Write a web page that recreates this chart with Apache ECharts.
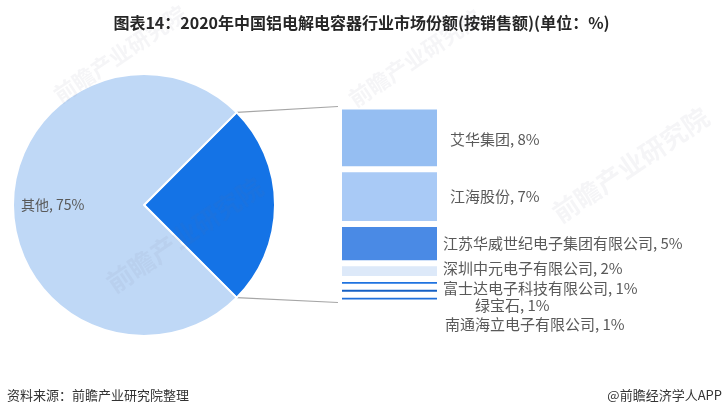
<!DOCTYPE html>
<html>
<head>
<meta charset="utf-8">
<script src="https://cdn.jsdelivr.net/npm/echarts@6/dist/echarts.min.js"></script>
<style>
  html, body { margin: 0; padding: 0; background: #fff; }
  #chart { width: 723px; height: 415px; }
</style>
</head>
<body>
<div id="chart"></div>
<script>
// 2020年中国铝电解电容器行业市场份额（按销售额，%）
const pieNames = ['前七家企业合计', '其他'];
const pieValues = [25, 75];

const companies = ['艾华集团', '江海股份', '江苏华威世纪电子集团有限公司', '深圳中元电子有限公司', '富士达电子科技有限公司', '绿宝石', '南通海立电子有限公司'];
const shares = [8, 7, 5, 2, 1, 1, 1];

// styling
const pieColors = ['#1473E6', '#BFD8F6'];
const barColors = ['#95BEF2', '#A9CAF6', '#4A8AE5', '#DDE9F9', '#1F73E0', '#1660C4', '#1F6FDA'];
const labelOffsets = [[10, 1], [10, 0], [3, 0], [3, -3], [3, 5], [35, 15], [5, 26]];

const pieCenter = [144, 205];
const pieRadius = 131;
const gridBox = { left: 339, top: 106.5, width: 101, height: 196 };

const chart = echarts.init(document.getElementById('chart'), null, { renderer: 'canvas' });
const total = shares.reduce((a, b) => a + b, 0);
const textColor = '#595959';
const fontCJK = '"Noto Sans CJK SC", "Noto Sans", sans-serif';

const barSeries = companies.map((name, i) => ({
  type: 'bar',
  name: name,
  stack: 'share',
  barWidth: '100%',
  data: [shares[i]],
  itemStyle: { color: barColors[i], borderColor: '#fff', borderWidth: 3 },
  label: {
    show: true,
    position: 'right',
    distance: 0,
    offset: labelOffsets[i],
    formatter: '{a}, {c}%',
    color: textColor,
    fontSize: 15,
    fontFamily: fontCJK
  },
  silent: true
}));

function watermark(x, y, size) {
  return {
    type: 'text', x: x, y: y, rotation: Math.PI * 34 / 180, z: 100, silent: true,
    style: { text: '前瞻产业研究院', fill: 'rgba(110,120,140,0.07)', font: 'bold ' + size + 'px ' + fontCJK }
  };
}

chart.setOption({
  backgroundColor: '#fff',
  animation: false,
  title: {
    text: '图表14：2020年中国铝电解电容器行业市场份额(按销售额)(单位：%)',
    left: 'center',
    top: 10,
    textStyle: { fontSize: 16, fontWeight: 'bold', color: '#262626', fontFamily: fontCJK }
  },
  grid: { left: gridBox.left, top: gridBox.top, width: gridBox.width, height: gridBox.height },
  xAxis: { type: 'category', data: ['份额'], show: false },
  yAxis: { type: 'value', min: 0, max: total, inverse: true, show: false },
  series: [
    {
      type: 'pie',
      center: pieCenter,
      radius: pieRadius,
      startAngle: 45,
      clockwise: true,
      silent: true,
      itemStyle: { borderColor: '#fff', borderWidth: 2 },
      label: {
        show: true,
        position: 'inside',
        formatter: '{b}, {c}%',
        color: textColor,
        fontSize: 14,
        fontFamily: fontCJK
      },
      // the "其他" label sits near the left rim of the pie
      labelLayout: function () {
        return { x: pieCenter[0] - pieRadius + 8, y: pieCenter[1], align: 'left', verticalAlign: 'middle' };
      },
      data: pieNames.map((n, i) => ({
        name: n,
        value: pieValues[i],
        itemStyle: { color: pieColors[i] },
        label: { show: i === 1 }
      }))
    }
  ].concat(barSeries)
});

// connector lines from the split slice to the stacked column, plus footer text
const yTop = chart.convertToPixel({ yAxisIndex: 0 }, 0);
const yBottom = chart.convertToPixel({ yAxisIndex: 0 }, total);
const half = (pieValues[0] / (pieValues[0] + pieValues[1])) * Math.PI; // half-angle of the split slice
const edgeX = pieCenter[0] + pieRadius * Math.cos(half);
const edgeDy = pieRadius * Math.sin(half);
const lineEndX = 338;

chart.setOption({
  graphic: [
    { type: 'line', silent: true, shape: { x1: edgeX, y1: pieCenter[1] - edgeDy, x2: lineEndX, y2: yTop }, style: { stroke: '#A6A6A6', lineWidth: 1.2 } },
    { type: 'line', silent: true, shape: { x1: edgeX, y1: pieCenter[1] + edgeDy, x2: lineEndX, y2: yBottom }, style: { stroke: '#A6A6A6', lineWidth: 1.2 } },
    { type: 'text', x: 7, y: 395, silent: true, style: { text: '资料来源：前瞻产业研究院整理', fill: '#333', font: '13px ' + fontCJK, verticalAlign: 'middle' } },
    { type: 'text', x: 722, y: 395, silent: true, style: { text: '@前瞻经济学人APP', fill: '#333', font: '13px ' + fontCJK, align: 'right', verticalAlign: 'middle' } },
    watermark(102, 275, 26),
    watermark(548, 205, 26),
    watermark(50, 88, 22),
    watermark(345, 92, 22)
  ]
});
</script>
</body>
</html>
